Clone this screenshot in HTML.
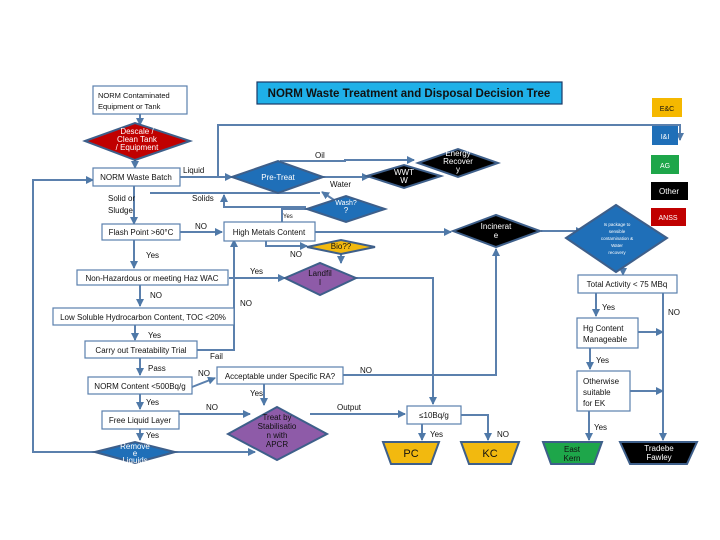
<!DOCTYPE html>
<html><head><meta charset="utf-8"><style>
html,body{margin:0;padding:0;background:#fff}
svg{display:block}
text{font-family:"Liberation Sans",sans-serif;font-size:8px;fill:#111}
.w{fill:#fff}
</style></head><body>
<svg width="720" height="540" viewBox="0 0 720 540" xmlns="http://www.w3.org/2000/svg">
<defs><marker id="a" markerUnits="userSpaceOnUse" markerWidth="8" markerHeight="8" refX="7" refY="4" orient="auto"><path d="M0,0L8,4L0,8z" fill="#4f79a8"/></marker></defs>
<g stroke="#5b80ad" stroke-width="2" fill="none">
<path d="M140,114V125" marker-end="url(#a)"/>
<path d="M135,160V168" marker-end="url(#a)"/>
<path d="M180,177H232" marker-end="url(#a)"/>
<path d="M218,177V125H680V140" marker-end="url(#a)"/>
<path d="M280,161H345V160H414" marker-end="url(#a)"/>
<path d="M323,177H369" marker-end="url(#a)"/>
<path d="M320,193H150"/><path d="M134,186V224" marker-end="url(#a)"/>
<path d="M340,204L322,192" marker-end="url(#a)"/>
<path d="M306,207H224V195" marker-end="url(#a)"/>
<path d="M282,222V209H310"/>
<path d="M180,232H222" marker-end="url(#a)"/>
<path d="M315,232H451" marker-end="url(#a)"/>
<path d="M541,231H583" marker-end="url(#a)"/>
<path d="M266,241V246H307" marker-end="url(#a)"/>
<path d="M341,254V263" marker-end="url(#a)"/>
<path d="M229,278H285" marker-end="url(#a)"/>
<path d="M356,278H433V404" marker-end="url(#a)"/>
<path d="M134,240V268" marker-end="url(#a)"/>
<path d="M140,285V306" marker-end="url(#a)"/>
<path d="M135,325V340" marker-end="url(#a)"/>
<path d="M197,350H234V240" marker-end="url(#a)"/>
<path d="M140,358V375" marker-end="url(#a)"/>
<path d="M192,387L215,378" marker-end="url(#a)"/>
<path d="M343,375H496V249" marker-end="url(#a)"/>
<path d="M264,384V405" marker-end="url(#a)"/>
<path d="M140,394V409" marker-end="url(#a)"/>
<path d="M179,414H250" marker-end="url(#a)"/>
<path d="M310,414H405" marker-end="url(#a)"/>
<path d="M140,429V440" marker-end="url(#a)"/>
<path d="M175,452H255" marker-end="url(#a)"/>
<path d="M95,452H33V180H93" marker-end="url(#a)"/>
<path d="M422,424V440" marker-end="url(#a)"/>
<path d="M461,415H488V440" marker-end="url(#a)"/>
<path d="M623,268V275" marker-end="url(#a)"/>
<path d="M596,293V316" marker-end="url(#a)"/>
<path d="M663,293V440" marker-end="url(#a)"/>
<path d="M638,332H663" marker-end="url(#a)"/>
<path d="M590,348V369" marker-end="url(#a)"/>
<path d="M630,391H663" marker-end="url(#a)"/>
<path d="M589,411V440" marker-end="url(#a)"/>
</g>
<g stroke="#5b80ad" stroke-width="1.2" fill="#fff">
<rect x="93" y="86" width="94" height="28"/>
<rect x="93" y="168" width="87" height="18"/>
<rect x="102" y="224" width="78" height="16"/>
<rect x="224" y="222" width="91" height="19"/>
<rect x="77" y="270" width="151" height="15"/>
<rect x="53" y="308" width="181" height="17"/>
<rect x="85" y="341" width="112" height="17"/>
<rect x="88" y="377" width="104" height="17"/>
<rect x="217" y="367" width="126" height="17"/>
<rect x="102" y="411" width="77" height="18"/>
<rect x="407" y="406" width="54" height="18"/>
<rect x="578" y="275" width="99" height="18"/>
<rect x="577" y="318" width="61" height="30"/>
<rect x="577" y="371" width="53" height="40"/>
</g>
<rect x="257" y="82" width="305" height="22" fill="#1fb0e8" stroke="#1a3a66" stroke-width="1.2"/>
<text x="409" y="97" text-anchor="middle" style="font-size:11.5px;font-weight:bold" fill="#10304f">NORM Waste Treatment and Disposal Decision Tree</text>
<g stroke="#3e5f8a" stroke-width="2">
<polygon points="85,141 135,123 190,141 135,160" fill="#c00000"/>
<polygon points="232,177 278,161 323,177 278,193" fill="#1f6fb8"/>
<polygon points="418,163 458,149 498,163 458,177" fill="#000"/>
<polygon points="367,176 404,165 441,176 404,188" fill="#000"/>
<polygon points="307,209 346,196 385,209 346,222" fill="#1f6fb8"/>
<polygon points="453,231 496,215 540,231 496,247" fill="#000"/>
<polygon points="566,238 616,205 667,238 616,272" fill="#1f6fb8"/>
<polygon points="307,247 341,240 375,247 341,254" fill="#f2b90f"/>
<polygon points="285,278 320,263 356,278 320,295" fill="#8e5ba8"/>
<polygon points="95,452 135,442 175,452 135,463" fill="#1f6fb8"/>
<polygon points="228,434 277,407 327,434 277,460" fill="#8e5ba8"/>
<polygon points="383,442 439,442 431,464 391,464" fill="#f2b90f"/>
<polygon points="461,442 519,442 511,464 469,464" fill="#f2b90f"/>
<polygon points="543,442 602,442 594,464 551,464" fill="#1ea64a"/>
<polygon points="620,442 697,442 687,464 630,464" fill="#000"/>
</g>
<rect x="652" y="98" width="30" height="19" fill="#f5b800"/>
<rect x="652" y="126" width="26" height="19" fill="#1f6fb8"/>
<rect x="651" y="155" width="28" height="19" fill="#1ea64a"/>
<rect x="651" y="182" width="37" height="18" fill="#000"/>
<rect x="651" y="208" width="35" height="18" fill="#c00000"/>
<text x="667" y="111" text-anchor="middle" style="font-size:7px">E&amp;C</text>
<text x="665" y="139" text-anchor="middle" class="w" style="font-size:7px">I&amp;I</text>
<text x="665" y="168" text-anchor="middle" class="w" style="font-size:7px">AG</text>
<text x="669" y="194" text-anchor="middle" class="w">Other</text>
<text x="668" y="220" text-anchor="middle" class="w" style="font-size:7px">ANSS</text>
<text x="98" y="98" style="font-size:7.5px">NORM Contaminated</text>
<text x="98" y="109" style="font-size:7.5px">Equipment or Tank</text>
<g text-anchor="middle" style="font-size:6px">
<text x="137" y="134" class="w">Descale /</text><text x="137" y="142" class="w">Clean Tank</text><text x="137" y="150" class="w">/ Equipment</text>
<text x="278" y="180" class="w">Pre-Treat</text>
<text x="458" y="156" class="w">Energy</text><text x="458" y="164" class="w">Recover</text><text x="458" y="172" class="w">y</text>
<text x="404" y="175" class="w">WWT</text><text x="404" y="183" class="w">W</text>
<text x="346" y="205" class="w" style="font-size:7px">Wash?</text><text x="346" y="213" class="w">?</text>
<text x="496" y="229" class="w">Incinerat</text><text x="496" y="238" class="w">e</text>
<text x="617" y="226" class="w" style="font-size:4.5px">Is package to</text>
<text x="617" y="233" class="w" style="font-size:4.5px">sensible</text>
<text x="617" y="240" class="w" style="font-size:4.5px">contamination &amp;</text>
<text x="617" y="247" class="w" style="font-size:4.5px">Water</text>
<text x="617" y="254" class="w" style="font-size:4.5px">recovery</text>
<text x="341" y="249">Bio??</text>
<text x="320" y="276">Landfil</text><text x="320" y="285">l</text>
<text x="135" y="449" class="w">Remove</text><text x="135" y="456" class="w">e</text><text x="135" y="463" class="w">Liquids</text>
<text x="277" y="420">Treat by</text><text x="277" y="429">Stabilisatio</text><text x="277" y="438">n with</text><text x="277" y="447">APCR</text>
<text x="411" y="457" style="font-size:11px">PC</text>
<text x="490" y="457" style="font-size:11px">KC</text>
<text x="572" y="452">East</text><text x="572" y="461">Kern</text>
<text x="659" y="451" class="w">Tradebe</text><text x="659" y="460" class="w">Fawley</text>
</g>
<text x="136" y="180" text-anchor="middle">NORM Waste Batch</text>
<text x="183" y="173">Liquid</text>
<text x="315" y="158">Oil</text>
<text x="330" y="187">Water</text>
<text x="108" y="201">Solid or</text><text x="108" y="213">Sludge</text>
<text x="192" y="201">Solids</text>
<text x="283" y="218" style="font-size:6px">Yes</text>
<text x="141" y="235" text-anchor="middle">Flash Point &gt;60°C</text>
<text x="195" y="229">NO</text>
<text x="269" y="235" text-anchor="middle">High Metals Content</text>
<text x="290" y="257">NO</text>
<text x="146" y="258">Yes</text>
<text x="250" y="274">Yes</text>
<text x="152" y="281" text-anchor="middle">Non-Hazardous or meeting Haz WAC</text>
<text x="150" y="298">NO</text>
<text x="240" y="306">NO</text>
<text x="143" y="320" text-anchor="middle">Low Soluble Hydrocarbon Content, TOC &lt;20%</text>
<text x="148" y="338">Yes</text>
<text x="141" y="353" text-anchor="middle">Carry out Treatability Trial</text>
<text x="210" y="359">Fail</text>
<text x="148" y="371">Pass</text>
<text x="140" y="389" text-anchor="middle">NORM Content &lt;500Bq/g</text>
<text x="198" y="376">NO</text>
<text x="280" y="379" text-anchor="middle">Acceptable under Specific RA?</text>
<text x="360" y="373">NO</text>
<text x="250" y="396">Yes</text>
<text x="146" y="405">Yes</text>
<text x="206" y="410">NO</text>
<text x="337" y="410">Output</text>
<text x="140" y="423" text-anchor="middle">Free Liquid Layer</text>
<text x="146" y="438">Yes</text>
<text x="434" y="418" text-anchor="middle">≤10Bq/g</text>
<text x="430" y="437">Yes</text>
<text x="497" y="437">NO</text>
<text x="627" y="287" text-anchor="middle">Total Activity &lt; 75 MBq</text>
<text x="602" y="310">Yes</text>
<text x="668" y="315">NO</text>
<text x="583" y="331">Hg Content</text><text x="583" y="342">Manageable</text>
<text x="596" y="363">Yes</text>
<text x="583" y="384">Otherwise</text><text x="583" y="395">suitable</text><text x="583" y="406">for EK</text>
<text x="594" y="430">Yes</text>
</svg>
</body></html>
